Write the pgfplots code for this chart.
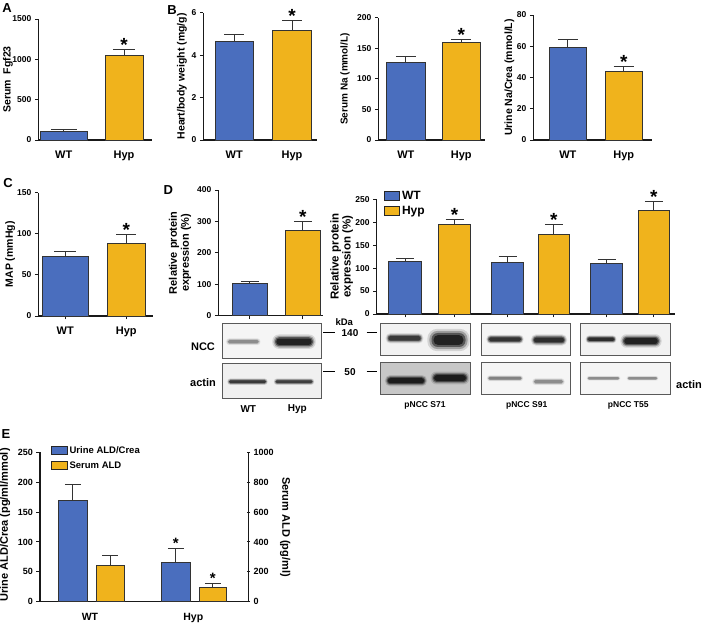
\documentclass[border=0pt]{standalone}
\usepackage{pgfplots}
\pgfplotsset{compat=1.18}
\usepackage{fontspec}
\setmainfont{Liberation Sans}
\definecolor{blueC}{HTML}{4A6EBE}
\definecolor{yelC}{HTML}{F0B31C}
\newcommand{\fs}[1]{\fontsize{#1}{#1}\selectfont}
\pgfplotsset{
 panel/.style={
  scale only axis, clip=false,
  axis x line=bottom, axis y line=left,
  axis line style={-, line width=1.2pt, black!90},
  ymin=0, enlargelimits=false,
  tick align=outside, major tick length=3.5pt,
  every tick/.style={black!90, line width=0.9pt},
  tick label style={font=\bfseries\fs{8.5}},
  /pgf/number format/assume math mode=true,
  /pgf/number format/1000 sep={},
  xticklabel style={font=\bfseries\fs{11}, yshift=-3.5pt},
 },
 noxt/.style={xtick style={draw=none}},
 ylab/.style n args={2}{every axis y label/.style={at={([xshift=-#1pt]axis description cs:0,0.5)}, rotate=90, anchor=center, align=center, font=\bfseries\fontsize{#2}{12}\selectfont}},
 br/.style n args={3}{ybar, bar shift=0pt, bar width=#2pt, fill=#1, draw=black!80, line width=0.7pt, forget plot,
  error bars/y dir=plus, error bars/y explicit,
  error bars/error bar style={line width=1pt, black!80},
  error bars/error mark options={rotate=90, line width=1pt, black!80, mark size=#3pt}},
}
\tikzset{sig/.style={anchor=base, inner sep=0pt, yshift=-2pt, font=\bfseries\fs{#1}}}
\newcommand{\blot}[5]{\draw[black!65, line width=1pt, fill=#5] (#1,{622-#2}) rectangle (#3,{622-#4});}
\newcommand{\band}[5]{%
 \foreach \s/\o in {1.6/0.12,1.3/0.25,1.0/0.45,0.7/0.6}{%
  \fill[black, opacity={\o*#5}, rounded corners={#4*\s*0.9pt}] ({#1-#3-#4*(\s-1)},{622-#2-#4*\s}) rectangle ({#1+#3+#4*(\s-1)},{622-#2+#4*\s});}}
\begin{document}
\begin{tikzpicture}[x=1pt,y=1pt]
\useasboundingbox (0,0) rectangle (710,622);
% panel letters
\node[font=\bfseries\fs{13}] at (7,614) {A};
\node[font=\bfseries\fs{13}] at (172,612) {B};
\node[font=\bfseries\fs{13}] at (8,439) {C};
\node[font=\bfseries\fs{13}] at (168.3,432) {D};
\node[font=\bfseries\fs{13}] at (6,188) {E};
% ---------- A
\begin{axis}[panel, noxt, at={(38.3pt,482pt)}, anchor=south west, width=113.7pt, height=121pt,
  xmin=38.3, xmax=152, ymax=1500, ytick={0,500,1000,1500},
  xtick={63.8,124}, xticklabels={WT,Hyp}, ylab={30.3}{10.5}, ylabel={Serum\ \ Fgf23}]
\addplot[br={blueC}{46.3}{13}] coordinates {(63.8,103) +- (0,29)};
\addplot[br={yelC}{37.7}{11}] coordinates {(124,1054) +- (0,62)};
\node[sig=19] at (axis cs:124,1116) {*};
\end{axis}
% ---------- B1
\begin{axis}[panel, noxt, at={(203.3pt,482pt)}, anchor=south west, width=113.4pt, height=127.3pt,
  xmin=203.3, xmax=316.7, ymax=6, ytick={0,2,4,6},
  xtick={234.2,292}, xticklabels={WT,Hyp}, ylab={21.3}{10.5}, ylabel={Heart/body weight (mg/g)}]
\addplot[br={blueC}{38.3}{10}] coordinates {(234.2,4.67) +- (0,0.31)};
\addplot[br={yelC}{39.4}{10}] coordinates {(292,5.18) +- (0,0.44)};
\node[sig=19] at (axis cs:292,5.62) {*};
\end{axis}
% ---------- B2
\begin{axis}[panel, noxt, at={(378.3pt,482pt)}, anchor=south west, width=106.7pt, height=122.3pt,
  xmin=378.3, xmax=485, ymax=200, ytick={0,50,100,150,200},
  xtick={405.8,461.2}, xticklabels={WT,Hyp}, ylab={33.3}{10}, ylabel={Serum Na (mmol/L)}]
\addplot[br={blueC}{38.3}{10}] coordinates {(405.8,127.4) +- (0,9.1)};
\addplot[br={yelC}{37.7}{10}] coordinates {(461.2,159.1) +- (0,5.6)};
\node[sig=19] at (axis cs:461.2,164.7) {*};
\end{axis}
% ---------- B3
\begin{axis}[panel, noxt, at={(533.3pt,482pt)}, anchor=south west, width=118.4pt, height=125pt,
  xmin=533.3, xmax=651.7, ymax=80, ytick={0,20,40,60,80},
  xtick={567.8,623.7}, xticklabels={WT,Hyp}, ylab={24}{10.5}, ylabel={Urine Na/Crea (mmol/L)}]
\addplot[br={blueC}{37.7}{10}] coordinates {(567.8,59.1) +- (0,5.5)};
\addplot[br={yelC}{37.3}{10}] coordinates {(623.7,43.7) +- (0,3.2)};
\node[sig=19] at (axis cs:623.7,46.9) {*};
\end{axis}
% ---------- C
\begin{axis}[panel, at={(38.3pt,306pt)}, anchor=south west, width=114.7pt, height=123.3pt,
  xmin=38.3, xmax=153, ymax=150, ytick={0,50,100,150},
  xtick={65.3,126.3}, xticklabels={WT,Hyp}, ylab={28}{10.5}, ylabel={MAP (mmHg)}]
\addplot[br={blueC}{46}{11}] coordinates {(65.3,72.1) +- (0,6.1)};
\addplot[br={yelC}{37.3}{10}] coordinates {(126.3,88.4) +- (0,11)};
\node[sig=19] at (axis cs:126.3,99.4) {*};
\end{axis}
% ---------- D1
\begin{axis}[panel, at={(218.3pt,306.3pt)}, anchor=south west, width=104.4pt, height=125.7pt,
  xmin=218.3, xmax=322.7, ymax=400, ytick={0,100,200,300,400},
  xtick={249.8,302.8}, xticklabels={,,}, ylab={38.3}{11}, ylabel={Relative protein\\expression (\%)}]
\addplot[br={blueC}{35}{9}] coordinates {(249.8,103) +- (0,7.4)};
\addplot[br={yelC}{35.7}{9}] coordinates {(302.8,272.7) +- (0,26.3)};
\node[sig=19] at (axis cs:302.8,299) {*};
\end{axis}
% ---------- D2
\begin{axis}[panel, at={(376.7pt,308pt)}, anchor=south west, width=298.3pt, height=114.7pt,
  xmin=376.7, xmax=675, ymax=250, ytick={0,50,100,150,200,250},
  xtick={405,454.5,507.5,553.8,606.5,653.8}, xticklabels={,,,,,,}, ylab={35}{11.5}, ylabel={Relative protein\\expression (\%)},
  legend style={at={(axis description cs:0.024,1.09)}, anchor=north west, draw=none, fill=none, font=\bfseries\fs{12}, row sep=1.5pt, inner sep=0pt},
  legend cell align=left,
  legend image code/.code={\draw[#1, line width=1pt, draw=black!85] (0pt,-4.5pt) rectangle (15pt,5pt);}]
\addlegendimage{fill=blueC}\addlegendentry{WT}
\addlegendimage{fill=yelC}\addlegendentry{Hyp}
\addplot[br={blueC}{33.4}{9}] coordinates {(405,114) +- (0,7.4)};
\addplot[br={yelC}{32.4}{9}] coordinates {(454.5,195.5) +- (0,11.5)};
\addplot[br={blueC}{31.6}{9}] coordinates {(507.5,112.7) +- (0,13.7)};
\addplot[br={yelC}{31}{9}] coordinates {(553.8,173.7) +- (0,22.3)};
\addplot[br={blueC}{31.6}{9}] coordinates {(606.5,111) +- (0,7.4)};
\addplot[br={yelC}{31}{9}] coordinates {(653.8,226.7) +- (0,18.1)};
\node[sig=19] at (axis cs:454.5,207) {*};
\node[sig=19] at (axis cs:553.8,196) {*};
\node[sig=19] at (axis cs:653.8,244.8) {*};
\end{axis}
% ---------- blots
\blot{222.7}{323.3}{321}{359}{black!4}
\blot{222.7}{363.3}{321}{398.3}{black!6}
\band{243.3}{341.7}{16}{2.2}{0.35}
\band{294}{341.7}{19}{4.5}{1}
\band{247.5}{381.7}{19}{2}{0.8}
\band{294}{381.7}{19}{2}{0.75}
\blot{380}{323.3}{470.7}{355.7}{black!5}
\blot{380}{362.7}{470.7}{395}{black!22}
\band{404.5}{338.3}{17}{3.2}{0.8}
\band{448.5}{340}{17}{7}{1}
\band{406}{380.7}{19}{3.5}{1}
\band{450}{378}{17}{4}{1}
\blot{481.7}{323.3}{570.7}{355.7}{black!4}
\blot{481.7}{362.7}{570.7}{395}{black!4}
\band{505}{339.3}{17}{2.8}{0.85}
\band{549}{340}{16}{3.5}{0.9}
\band{505}{378.3}{17}{1.8}{0.4}
\band{548.5}{381.7}{15}{2.2}{0.35}
\blot{580}{323.3}{670}{355.7}{black!5}
\blot{580}{362.7}{670}{395}{black!4}
\band{601}{339.3}{14}{2.4}{0.9}
\band{641}{341}{18}{4.2}{1}
\band{603.5}{378.3}{16}{1.5}{0.35}
\band{642.5}{378.3}{15}{1.5}{0.35}
% blot labels
\node[font=\bfseries\fs{11}] at (203,275.3) {NCC};
\node[font=\bfseries\fs{11}] at (203,239.3) {actin};
\node[font=\bfseries\fs{10}] at (248.3,212.7) {WT};
\node[font=\bfseries\fs{10}] at (297.3,212.7) {Hyp};
\node[font=\bfseries\fs{9.5}] at (344.3,300.3) {kDa};
\node[font=\bfseries\fs{10}] at (350,289.3) {140};
\node[font=\bfseries\fs{10}] at (350,250.3) {50};
\draw[black, line width=1.3pt] (323.3,289.3) -- (335,289.3) (366.7,289.3) -- (377.3,289.3);
\draw[black, line width=1.3pt] (323.3,250.3) -- (335,250.3) (366.7,250.3) -- (377.3,250.3);
\node[font=\bfseries\fs{8.5}] at (425,217) {pNCC S71};
\node[font=\bfseries\fs{8.5}] at (526.7,217) {pNCC S91};
\node[font=\bfseries\fs{8.5}] at (628.3,217) {pNCC T55};
\node[font=\bfseries\fs{11}] at (689,237) {actin};
% ---------- E
\begin{axis}[panel, noxt, at={(40pt,20.3pt)}, anchor=south west, width=208.3pt, height=149.4pt,
  xmin=40, xmax=248.3, ymax=250, ytick={0,50,100,150,200,250},
  tick label style={font=\bfseries\fs{9}},
  xtick={90,193.3}, xticklabels={WT,Hyp}, xticklabel style={font=\bfseries\fs{10.5}, yshift=-1pt},
  every axis y label/.style={at={([xshift=-35pt,yshift=2pt]axis description cs:0,0.5)}, rotate=90, anchor=center, font=\bfseries\fs{11}},
  ylabel={Urine ALD/Crea (pg/ml/mmol)},
  legend style={at={(axis description cs:0.05,1.055)}, anchor=north west, draw=none, fill=none, font=\bfseries\fs{9.5}, row sep=3pt, inner sep=0pt},
  legend cell align=left,
  legend image code/.code={\draw[#1, line width=1pt, draw=black!85] (0pt,-4pt) rectangle (16pt,4pt);}]
\addlegendimage{fill=blueC}\addlegendentry{Urine ALD/Crea}
\addlegendimage{fill=yelC}\addlegendentry{Serum ALD}
\addplot[br={blueC}{29}{8}] coordinates {(72.8,170.2) +- (0,26.2)};
\addplot[br={blueC}{28.3}{8}] coordinates {(175.8,65.9) +- (0,23.5)};
\node[sig=15] at (axis cs:175.8,92) {*};
\end{axis}
\begin{axis}[panel, noxt, at={(40pt,20.3pt)}, anchor=south west, width=208.3pt, height=149.4pt,
  xmin=40, xmax=248.3, ymax=1000, ytick={0,200,400,600,800,1000},
  tick label style={font=\bfseries\fs{9}},
  axis y line=right, axis x line=none, xtick=\empty,
  y axis line style={-}, every outer y axis line/.append style={-},
  every axis y label/.style={at={([xshift=37pt]axis description cs:1,0.5)}, rotate=-90, anchor=center, font=\bfseries\fs{11}},
  ylabel={Serum ALD (pg/ml)}]
\addplot[br={yelC}{27.3}{8}] coordinates {(110.3,241) +- (0,65)};
\addplot[br={yelC}{27.7}{8}] coordinates {(212.8,93.7) +- (0,29.3)};
\node[sig=15] at (axis cs:212.8,135) {*};
\end{axis}
\end{tikzpicture}
\end{document}
